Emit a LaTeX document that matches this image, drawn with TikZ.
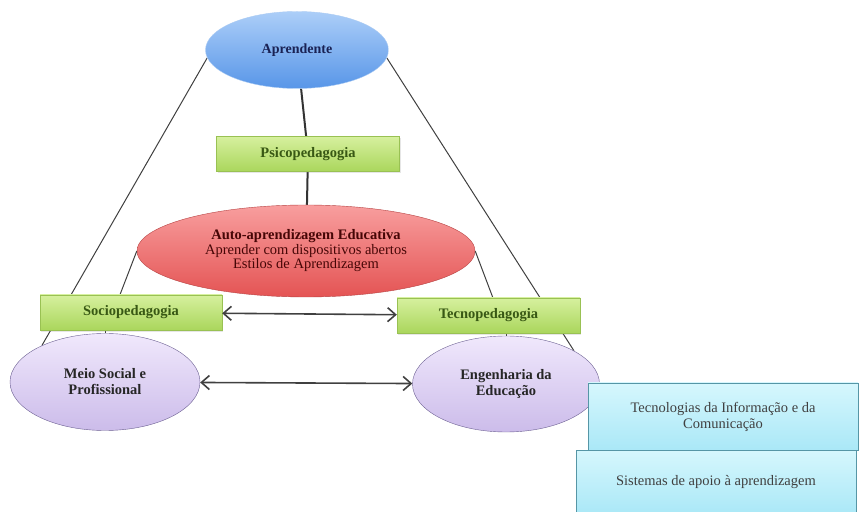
\documentclass[tikz,border=0pt]{standalone}
\usepackage{fontspec}
\setmainfont{Liberation Serif}
\usepackage{tikz}
\usetikzlibrary{shapes.geometric, arrows.meta, positioning, calc, shadows}
\definecolor{azulclaro}{RGB}{172,206,248}
\definecolor{azulfundo}{RGB}{88,150,232}
\definecolor{azultexto}{RGB}{26,34,84}
\definecolor{vermclaro}{RGB}{248,158,158}
\definecolor{vermfundo}{RGB}{228,84,84}
\definecolor{vermtexto}{RGB}{70,6,6}
\definecolor{verdeclaro}{RGB}{214,240,158}
\definecolor{verdefundo}{RGB}{170,214,92}
\definecolor{verdetexto}{RGB}{56,88,20}
\definecolor{lilasclaro}{RGB}{240,232,252}
\definecolor{lilasfundo}{RGB}{204,188,234}
\definecolor{lilasborda}{RGB}{108,96,146}
\definecolor{cianoclaro}{RGB}{214,247,253}
\definecolor{cianofundo}{RGB}{170,232,247}
\definecolor{cianoborda}{RGB}{86,150,166}
\definecolor{linhacinza}{RGB}{64,64,64}
\pgfdeclarelayer{fundo}
\pgfsetlayers{fundo,main}
\tikzset{
  poloazul/.style={ellipse, top color=azulclaro, bottom color=azulfundo, draw=azulfundo!50, text centered, text=azultexto, font=\fontsize{14}{16}\selectfont\bfseries},
  polovermelho/.style={ellipse, top color=vermclaro, bottom color=vermfundo, draw=vermfundo!80!black, text centered, align=center, text=vermtexto, font=\fontsize{14.5}{14.5}\selectfont},
  pololilas/.style={ellipse, top color=lilasclaro, bottom color=lilasfundo, draw=lilasborda, text centered, align=center, text=black!85, font=\fontsize{14.5}{16}\selectfont\bfseries},
  mediacao/.style={rectangle, minimum width=183pt, minimum height=35pt, top color=verdeclaro, bottom color=verdefundo, draw=verdefundo!90!black, text=verdetexto, font=\fontsize{14.5}{16}\selectfont\bfseries, drop shadow={opacity=0.2, shadow xshift=1pt, shadow yshift=-2pt}},
  suporte/.style={rectangle, top color=cianoclaro, bottom color=cianofundo, draw=cianoborda, text centered, align=center, text=black!75, font=\fontsize{14.5}{16}\selectfont},
  linha/.style={line width=1pt, color=linhacinza},
  eixo/.style={line width=2pt, color=linhacinza!80!black},
  seta/.style={line width=1.6pt, <->, >={Straight Barb[length=8pt, width=14pt]}, color=linhacinza}
}

\begin{document}
\begin{tikzpicture}[x=1pt, y=1pt]
  \useasboundingbox (0,0) rectangle (861,511);
  \node (apr) [poloazul, minimum width=183pt, minimum height=77pt] at (297,461) {Aprendente};
  \node (psico) [mediacao] at (308,357) {Psicopedagogia};
  \node (auto) [polovermelho, minimum width=338pt, minimum height=92pt] at (306,260)
    {\textbf{Auto-aprendizagem Educativa}\\ Aprender com dispositivos abertos\\ Estilos de Aprendizagem};
  \node (socio) [mediacao, minimum width=182pt] at (131,198.5) {Sociopedagogia};
  \node (tecno) [mediacao] at (488.5,195.5) {Tecnopedagogia};
  \node (meio) [pololilas, minimum width=190pt, minimum height=97pt] at (105,129) {Meio Social e\\ Profissional};
  \node (eng) [pololilas, minimum width=187pt, minimum height=96pt] at (506,127) {Engenharia da\\ Educação};
  \node (sis) [suporte, minimum width=280pt, minimum height=64pt] at (716,29) {Sistemas de apoio à aprendizagem};
  \node (tic) [suporte, minimum width=270pt, minimum height=67pt] at (723,94.5) {Tecnologias da Informação e da\\ Comunicação};
  \begin{pgfonlayer}{fundo}
    \draw [linha] (apr.185) -- (meio.150); \draw [linha] (apr.-5) -- (eng.26);
    \draw [linha] (auto.west) -- (socio.122); \draw [linha] (auto.east) -- (tecno.76);
    \draw [eixo] (apr) -- (psico); \draw [eixo] (psico) -- (auto);
    \draw [linha] (meio.north) -- (meio.north |- socio.south);
    \draw [linha] (eng.north) -- (eng.north |- tecno.south);
  \end{pgfonlayer}
  \draw [seta] (socio) -- (tecno);
  \draw [seta] (meio) -- (eng);
\end{tikzpicture}
\end{document}
